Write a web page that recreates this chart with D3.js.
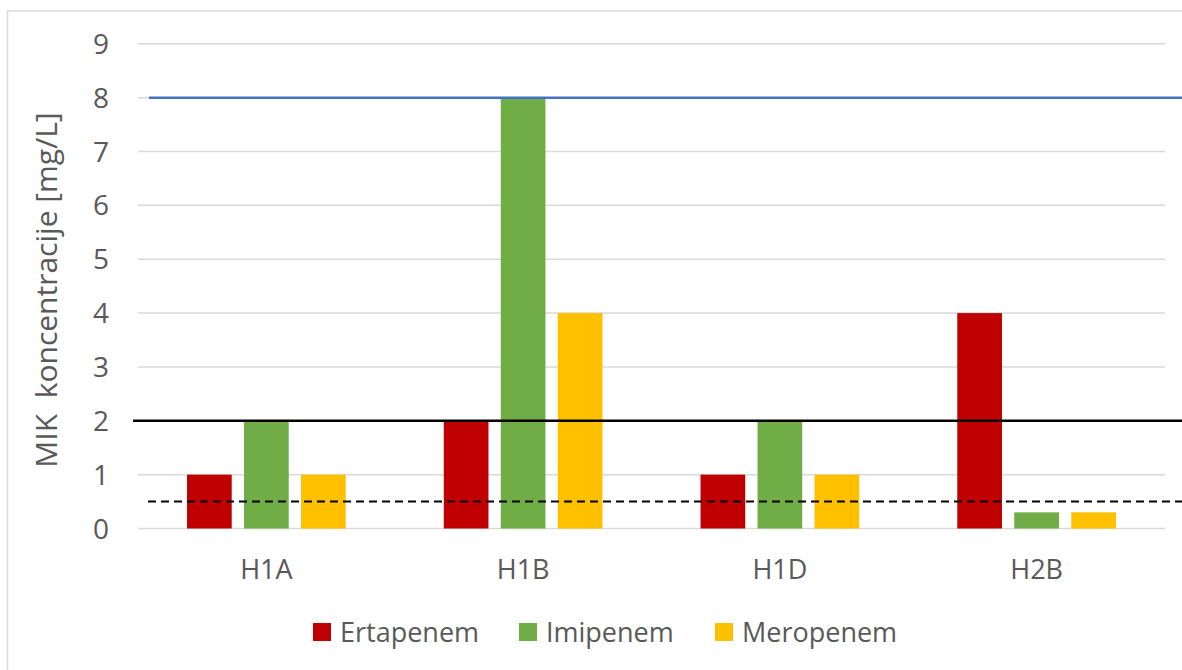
<!DOCTYPE html>
<html>
<head>
<meta charset="utf-8">
<script src="https://cdn.jsdelivr.net/npm/d3@7"></script>
<style>
  body { margin: 0; background: #fff; }
  text { font-family: "Open Sans", sans-serif; fill: #595959; }
</style>
</head>
<body>
<div id="chart"></div>
<script>
// Data
var categories = ["H1A", "H1B", "H1D", "H2B"];
var seriesNames = ["Ertapenem", "Imipenem", "Meropenem"];
var ertapenem = [1, 2, 1, 4];
var imipenem = [2, 8, 2, 0.3];
var meropenem = [1, 4, 1, 0.3];
var yTicks = [0, 1, 2, 3, 4, 5, 6, 7, 8, 9];
// Reference lines: value, colour, dashed
var refLines = [
    { value: 8, color: "#4472C4", dash: null, x0: 149 },
    { value: 2, color: "#000000", dash: null, x0: 133 },
    { value: 0.5, color: "#000000", dash: "8,5", x0: 148 }
];

var width = 1182;
var height = 670;
var colors = ["#C00000", "#70AD47", "#FFC000"];
var seriesValues = [ertapenem, imipenem, meropenem];

var svg = d3.select("#chart")
    .append("svg")
    .attr("width", width)
    .attr("height", height);

// Outer chart border
svg.append("rect")
    .attr("x", 7.5)
    .attr("y", 11)
    .attr("width", 1200)
    .attr("height", 700)
    .attr("fill", "none")
    .attr("stroke", "#D9D9D9")
    .attr("stroke-width", 1.5);

var x0 = d3.scaleBand()
    .domain(categories)
    .range([138, 1165])
    .paddingInner(0);

var x1 = d3.scaleBand()
    .domain(seriesNames)
    .range([0, x0.bandwidth()])
    .paddingInner(0.216)
    .paddingOuter(0.86);

var y = d3.scaleLinear()
    .domain([0, 9])
    .range([528.5, 43.8]);

// Gridlines
svg.append("g")
    .selectAll("line")
    .data(yTicks)
    .enter().append("line")
    .attr("x1", 138)
    .attr("x2", 1165)
    .attr("y1", function (d) { return y(d); })
    .attr("y2", function (d) { return y(d); })
    .attr("stroke", "#D9D9D9")
    .attr("stroke-width", 1.5);

// Y tick labels
svg.append("g")
    .selectAll("text")
    .data(yTicks)
    .enter().append("text")
    .attr("x", 109)
    .attr("y", function (d) { return y(d); })
    .attr("dy", "0.36em")
    .attr("text-anchor", "end")
    .style("font-size", "28px")
    .text(function (d) { return d; });

// Bars
var rows = [];
categories.forEach(function (c, i) {
    seriesNames.forEach(function (s, j) {
        rows.push({ cat: c, series: s, value: seriesValues[j][i], color: colors[j] });
    });
});

svg.append("g")
    .selectAll("rect")
    .data(rows)
    .enter().append("rect")
    .attr("x", function (d) { return x0(d.cat) + x1(d.series); })
    .attr("width", x1.bandwidth())
    .attr("y", function (d) { return y(d.value); })
    .attr("height", function (d) { return y(0) - y(d.value); })
    .attr("fill", function (d) { return d.color; });

// Reference lines
svg.append("g")
    .selectAll("line")
    .data(refLines)
    .enter().append("line")
    .attr("x1", function (d) { return d.x0; })
    .attr("x2", width)
    .attr("y1", function (d) { return y(d.value); })
    .attr("y2", function (d) { return y(d.value); })
    .attr("stroke", function (d) { return d.color; })
    .attr("stroke-width", function (d) { return d.dash ? 2 : 2.5; })
    .attr("stroke-dasharray", function (d) { return d.dash; });

// X labels
svg.append("g")
    .selectAll("text")
    .data(categories)
    .enter().append("text")
    .attr("x", function (d) { return x0(d) + x0.bandwidth() / 2; })
    .attr("y", 579)
    .attr("text-anchor", "middle")
    .style("font-size", "27px")
    .text(function (d) { return d; });

// Y axis title
svg.append("text")
    .attr("transform", "translate(57,290) rotate(-90)")
    .attr("text-anchor", "middle")
    .style("font-size", "30px")
    .style("white-space", "pre")
    .text("MIK  koncentracije [mg/L]");

// Legend
var legendX = [313, 519, 715];
var legend = svg.append("g")
    .selectAll("g")
    .data(seriesNames)
    .enter().append("g")
    .attr("transform", function (d, i) { return "translate(" + legendX[i] + ",623)"; });

legend.append("rect")
    .attr("width", 18)
    .attr("height", 18)
    .attr("fill", function (d, i) { return colors[i]; });

legend.append("text")
    .attr("x", 27)
    .attr("y", 19)
    .style("font-size", "27px")
    .text(function (d) { return d; });
</script>
</body>
</html>
